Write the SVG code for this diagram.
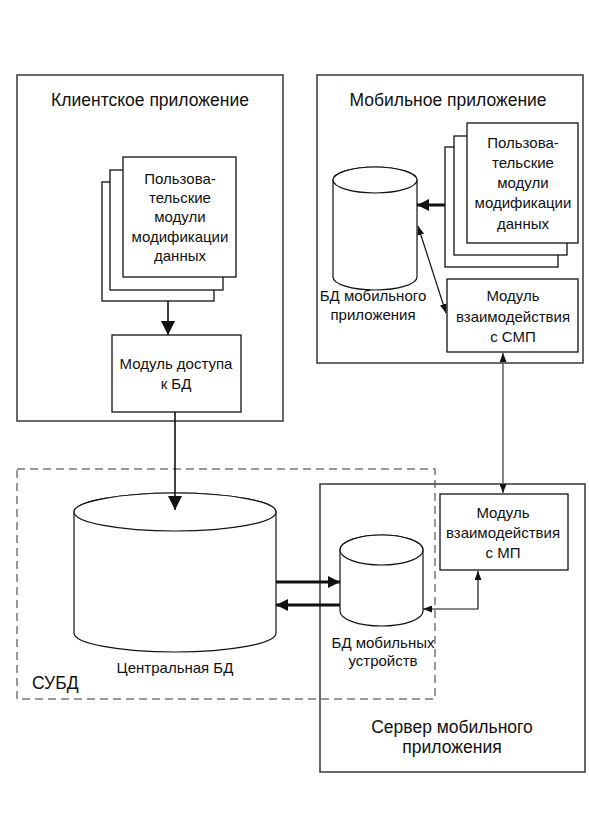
<svg xmlns="http://www.w3.org/2000/svg" width="589" height="837" viewBox="0 0 589 837">
<style>
text{font-family:"Liberation Sans",Arial,sans-serif;fill:#111;text-anchor:middle}
.t{font-size:17.5px}
.s{font-size:15px}
.outer{fill:none;stroke:#444;stroke-width:1.6}
.box{fill:#fff;stroke:#111;stroke-width:1.3}
.db{fill:#fff;stroke:#111;stroke-width:1.2}
.thin{fill:none;stroke:#111;stroke-width:1.2}
.med{fill:none;stroke:#111;stroke-width:1.6}
.thick{fill:none;stroke:#111;stroke-width:3}
</style>
<defs>
<marker id="big" viewBox="0 0 12 12" refX="12" refY="6" markerWidth="12" markerHeight="12" markerUnits="userSpaceOnUse" orient="auto-start-reverse"><path d="M0,0L12,6L0,12z" fill="#111"/></marker>
<marker id="mid" viewBox="0 0 14 14" refX="14" refY="7" markerWidth="14" markerHeight="14" markerUnits="userSpaceOnUse" orient="auto-start-reverse"><path d="M0,0L14,7L0,14z" fill="#111"/></marker>
<marker id="sm" viewBox="0 0 9 7" refX="9" refY="3.5" markerWidth="9" markerHeight="7" markerUnits="userSpaceOnUse" orient="auto-start-reverse"><path d="M0,0L9,3.5L0,7z" fill="#111"/></marker>
</defs>
<rect width="589" height="837" fill="#fff"/>

<g id="client-app">
<rect class="outer" x="17" y="75" width="266" height="346"/>
<text class="t" x="150" y="106">Клиентское приложение</text>
</g>
<g id="client-modules">
<rect class="box" x="102" y="182" width="112" height="119"/>
<rect class="box" x="110" y="170" width="113" height="120"/>
<rect class="box" x="123" y="157" width="113" height="120"/>
<text class="s" x="180" y="184">Пользова-</text>
<text class="s" x="180" y="203">тельские</text>
<text class="s" x="180" y="222">модули</text>
<text class="s" x="180" y="242">модификации</text>
<text class="s" x="180" y="261">данных</text>
</g>
<g id="db-access">
<rect class="box" x="112" y="335" width="129" height="77"/>
<text class="s" x="176" y="369">Модуль доступа</text>
<text class="s" x="176" y="389">к БД</text>
</g>

<g id="mobile-app">
<rect class="outer" x="317" y="75" width="266" height="288"/>
<text class="t" x="448" y="106">Мобильное приложение</text>
</g>
<g id="mobile-modules">
<rect class="box" x="445" y="147" width="113" height="120"/>
<rect class="box" x="454" y="136" width="113" height="119"/>
<rect class="box" x="467" y="123" width="111" height="120"/>
<text class="s" x="523" y="148">Пользова-</text>
<text class="s" x="523" y="168">тельские</text>
<text class="s" x="523" y="188">модули</text>
<text class="s" x="523" y="208">модификации</text>
<text class="s" x="523" y="229">данных</text>
</g>
<g id="mobile-db">
<path class="db" d="M333,180L333,277A42,13 0 0 0 417,277L417,180A42,13 0 0 0 333,180Z"/>
<ellipse class="db" cx="375" cy="180" rx="42" ry="13"/>
<text class="s" x="373" y="301">БД мобильного</text>
<text class="s" x="373" y="320">приложения</text>
</g>
<g id="smp-module">
<rect class="box" x="447" y="279" width="131" height="73"/>
<text class="s" x="513" y="301">Модуль</text>
<text class="s" x="513" y="322">взаимодействия</text>
<text class="s" x="513" y="342">с СМП</text>
</g>

<g id="dbms">
<rect x="17" y="469" width="418" height="230" fill="none" stroke="#777" stroke-width="1.5" stroke-dasharray="8,5"/>
<text class="t" x="32" y="689" style="text-anchor:start">СУБД</text>
</g>
<g id="central-db">
<path class="db" d="M74,512L74,633A101,19 0 0 0 276,633L276,512A101,19 0 0 0 74,512Z"/>
<ellipse class="db" cx="175" cy="512" rx="101" ry="19"/>
<text class="s" x="175" y="673">Центральная БД</text>
</g>

<g id="server">
<rect class="outer" x="320" y="484" width="265" height="288"/>
<text class="t" x="452" y="733">Сервер мобильного</text>
<text class="t" x="452" y="753">приложения</text>
</g>
<g id="mp-module">
<rect class="box" x="440" y="494" width="128" height="76"/>
<text class="s" x="503" y="518">Модуль</text>
<text class="s" x="503" y="538">взаимодействия</text>
<text class="s" x="503" y="558">с МП</text>
</g>
<g id="devices-db">
<path class="db" d="M340,550L340,611A41.5,15 0 0 0 423,611L423,550A41.5,15 0 0 0 340,550Z"/>
<ellipse class="db" cx="381.5" cy="550" rx="41.5" ry="15"/>
<text class="s" x="383" y="648">БД мобильных</text>
<text class="s" x="383" y="666">устройств</text>
</g>

<g id="connectors">
<line class="med" x1="168" y1="301" x2="168" y2="335" marker-end="url(#mid)"/>
<line class="med" x1="175" y1="412" x2="175" y2="510" marker-end="url(#mid)"/>
<line class="thick" x1="276" y1="582" x2="340" y2="582" marker-end="url(#big)"/>
<line class="thick" x1="340" y1="605" x2="276" y2="605" marker-end="url(#big)"/>
<polyline class="thin" points="423,609 478,609 478,571" marker-start="url(#sm)" marker-end="url(#sm)"/>
<line x1="503" y1="353" x2="503" y2="493" stroke="#666" stroke-width="1.6" marker-start="url(#sm)" marker-end="url(#sm)"/>
<line class="thick" x1="445" y1="205" x2="417" y2="205" marker-end="url(#big)"/>
<line class="thin" x1="418" y1="226" x2="446" y2="313" marker-start="url(#sm)" marker-end="url(#sm)"/>
</g>
</svg>
